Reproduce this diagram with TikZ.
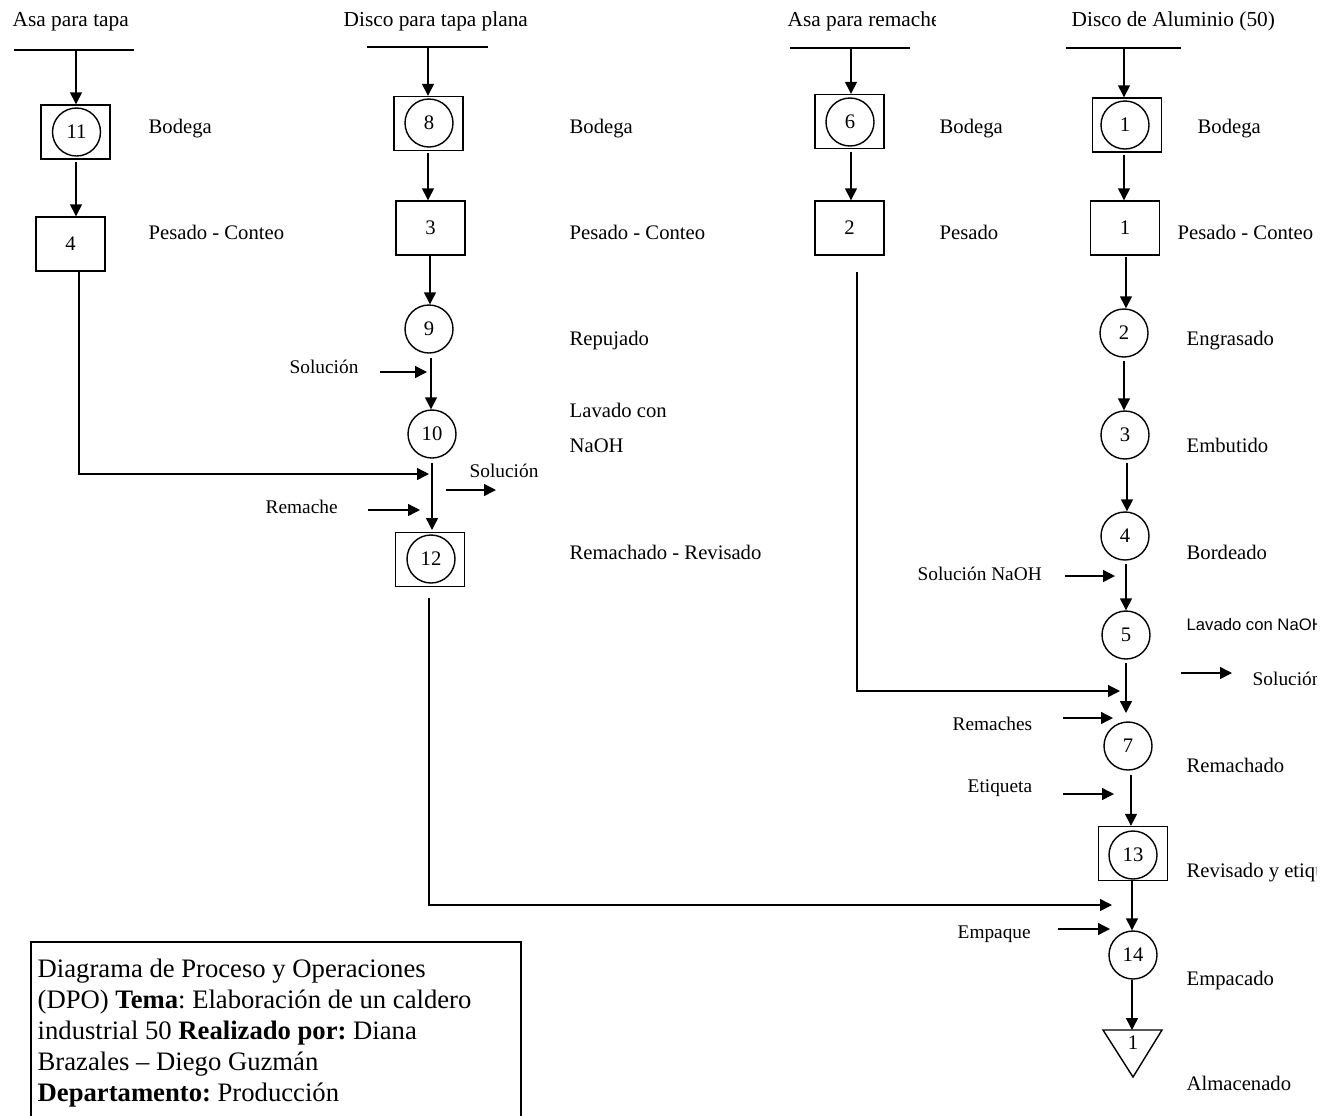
\documentclass[tikz,border=0pt]{standalone}
\usepackage{fontspec}
\setmainfont{Liberation Serif}
\newfontfamily\labsans{Liberation Sans}
\usetikzlibrary{arrows.meta,calc}
\frenchspacing
\begin{document}
\begin{tikzpicture}[x=0.75pt,y=-0.75pt,line width=1.05pt,
  flow/.style={-{Triangle[length=9pt,width=9pt]}},
  opbox/.style={draw,rectangle,inner sep=0pt,minimum width=51.75pt,minimum height=40.5pt,font=\fontsize{15.5}{18}\selectfont},
  opcirc/.style={draw,circle,inner sep=0pt,minimum size=36pt,font=\fontsize{15.5}{18}\selectfont},
  title/.style={anchor=mid west,inner sep=0pt,font=\fontsize{16}{19}\selectfont},
  lab/.style={anchor=mid west,inner sep=0pt,font=\fontsize{15.5}{18}\selectfont},
  side/.style={anchor=mid west,inner sep=0pt,font=\fontsize{14.5}{17}\selectfont},
]
\useasboundingbox (0,0) rectangle (1322,1115);

% ---------- column titles ----------
\node[title] (tA) at (12,23) {Asa para tapa};
\node[title] (tB) at (343,23) {Disco para tapa plana};
\begin{scope}
  \clip (700,0) rectangle (935,60);
  \node[title] (tC) at (787,23) {Asa para remache};
\end{scope}
\node[title] (tD) at (1071,23) {Disco de Aluminio (50)};

% material entry lines
\draw (14,50) -- (134,50);
\draw (367,47) -- (488,47);
\draw (790,48) -- (910,48);
\draw (1066,48) -- (1181,48);
\coordinate (lA) at (76,50);
\coordinate (lB) at (428,47);
\coordinate (lC) at (851,48);
\coordinate (lD) at (1124,48);

% ---------- column A: Asa para tapa ----------
\node[opbox] (b11) at (75.5,132) {};
\node[opcirc] (c11) at (76.5,132) {11};
\node[opbox] (b4) at (70.5,244) {4};

% ---------- column B: Disco para tapa plana ----------
\node[opbox] (b8) at (428.5,123.5) {};
\node[opcirc] (c8) at (429,123) {8};
\node[opbox] (b3) at (430.5,228) {3};
\node[opcirc] (c9) at (429,329) {9};
\node[opcirc] (c10) at (432,434) {10};
\node[opbox] (b12) at (430,559.5) {};
\node[opcirc] (c12) at (431,559) {12};

% ---------- column C: Asa para remache ----------
\node[opbox] (b6) at (849.5,121.5) {};
\node[opcirc] (c6) at (850,122) {6};
\node[opbox] (b2) at (849.5,228) {2};

% ---------- column D: Disco de Aluminio ----------
\node[opbox] (b1a) at (1127,125) {};
\node[opcirc] (c1) at (1125,125) {1};
\node[opbox] (b1b) at (1125,228) {1};
\node[opcirc] (c2) at (1124,333) {2};
\node[opcirc] (c3) at (1125,435) {3};
\node[opcirc] (c4) at (1125,536) {4};
\node[opcirc] (c5) at (1126,635) {5};
\node[opcirc] (c7) at (1128,746) {7};
\node[opbox] (b13) at (1133,853.5) {};
\node[opcirc] (c13) at (1133,855) {13};
\node[opcirc] (c14) at (1133,955) {14};
\draw (1103,1030) -- (1162,1030) -- (1133,1077) -- cycle;
\coordinate (tri) at (1133,1030);
\node[inner sep=0pt,font=\fontsize{15.5}{18}\selectfont] (n1) at (1133,1043) {1};

% ---------- flow A ----------
\draw[flow] (lA) -- (lA |- b11.north);
\coordinate (s11) at (76,162);
\draw[flow] (s11) -- (s11 |- b4.north);
\coordinate (a4) at (79,271);
\coordinate (jB1) at (429,474);
\draw[flow] (a4) |- (jB1);

% ---------- flow B ----------
\draw[flow] (lB) -- (lB |- b8.north);
\coordinate (s8) at (428,153);
\draw[flow] (s8) -- (s8 |- b3.north);
\coordinate (s3) at (430,256);
\draw[flow] (s3) -- (s3 |- c9.north);
\coordinate (s9) at (431,358);
\draw[flow] (s9) -- (s9 |- c10.north);
\coordinate (s10) at (432,463);
\coordinate (e10) at (432,530);
\draw[flow] (s10) -- (e10);
\coordinate (inB1) at (380,372);
\coordinate (inB1e) at (427,372);
\draw[flow] (inB1) -- (inB1e);
\node[side] (sB1) at (289,370) {Solución};
\coordinate (outB) at (446,490);
\coordinate (outBe) at (496,490);
\draw[flow] (outB) -- (outBe);
\node[side] (sB2) at (469,474) {Solución};
\coordinate (inB2) at (368,510);
\coordinate (inB2e) at (420,510);
\draw[flow] (inB2) -- (inB2e);
\node[side] (rB) at (265,510) {Remache};
\coordinate (a12) at (429,598);
\coordinate (jD3) at (1112,905);
\draw[flow] (a12) |- (jD3);

% ---------- flow C ----------
\draw[flow] (lC) -- (lC |- b6.north);
\coordinate (s6) at (851,152);
\draw[flow] (s6) -- (s6 |- b2.north);
\coordinate (a2) at (857,272);
\coordinate (jD1) at (1120,691);
\draw[flow] (a2) |- (jD1);

% ---------- flow D ----------
\draw[flow] (lD) -- (lD |- b1a.north);
\coordinate (s1a) at (1124,155);
\draw[flow] (s1a) -- (s1a |- b1b.north);
\coordinate (s1b) at (1126,257);
\draw[flow] (s1b) -- (s1b |- c2.north);
\coordinate (s2) at (1124,361);
\draw[flow] (s2) -- (s2 |- c3.north);
\coordinate (s3d) at (1127,463);
\draw[flow] (s3d) -- (s3d |- c4.north);
\coordinate (s4) at (1126,564);
\draw[flow] (s4) -- (s4 |- c5.north);
\coordinate (s5) at (1126,663);
\coordinate (d57) at (1126,713);
\draw[flow] (s5) -- (d57);
\coordinate (s7) at (1131,775);
\draw[flow] (s7) -- (s7 |- b13.north);
\coordinate (s13) at (1132,881);
\draw[flow] (s13) -- (s13 |- c14.north);
\coordinate (s14) at (1132,980);
\draw[flow] (s14) -- (s14 |- tri);

\coordinate (inD1) at (1065,576);
\coordinate (inD1e) at (1115,576);
\draw[flow] (inD1) -- (inD1e);
\node[side] (sD1) at (917,577) {Solución NaOH};
\coordinate (outD) at (1181,673);
\coordinate (outDe) at (1232,673);
\draw[flow] (outD) -- (outDe);
\coordinate (inD2) at (1063,718);
\coordinate (inD2e) at (1113,718);
\draw[flow] (inD2) -- (inD2e);
\node[side] (rD) at (952,727) {Remaches};
\coordinate (inD3) at (1063,794);
\coordinate (inD3e) at (1114,794);
\draw[flow] (inD3) -- (inD3e);
\node[side] (eD) at (967,789) {Etiqueta};
\coordinate (inD4) at (1058,929);
\coordinate (inD4e) at (1110,929);
\draw[flow] (inD4) -- (inD4e);
\node[side] (pD) at (957,935) {Empaque};

% ---------- step labels ----------
\node[lab] (lbA1) at (148,130) {Bodega};
\node[lab] (lbA2) at (148,236) {Pesado - Conteo};
\node[lab] (lbB1) at (569,130) {Bodega};
\node[lab] (lbB2) at (569,236) {Pesado - Conteo};
\node[lab] (lbB3) at (569,342) {Repujado};
\node[lab] (lbB4) at (569,414) {Lavado con};
\node[lab] (lbB5) at (569,449) {NaOH};
\node[lab] (lbB6) at (569,556) {Remachado - Revisado};
\node[lab] (lbC1) at (939,130) {Bodega};
\node[lab] (lbC2) at (939,236) {Pesado};
\node[lab] (lbD1) at (1197,130) {Bodega};
\begin{scope}
  \clip (1150,0) rectangle (1316,1115);
  \node[lab] (lbD2) at (1177,236) {Pesado - Conteo};
  \node[anchor=mid west,inner sep=0pt,font=\labsans\fontsize{12.5}{15}\selectfont] (lbD5) at (1186,627) {Lavado con NaOH};
  \node[side] (sD2) at (1252,682) {Solución};
  \node[lab] (lbD7) at (1186,874) {Revisado y etiquetado};
\end{scope}
\node[lab] (lbD3) at (1186,342) {Engrasado};
\node[lab] (lbD4) at (1186,449) {Embutido};
\node[lab] (lbD6) at (1186,556) {Bordeado};
\node[lab] (lbD8) at (1186,769) {Remachado};
\node[lab] (lbD9) at (1186,982) {Empacado};
\node[lab] (lbD10) at (1186,1087) {Almacenado};

% ---------- information box ----------
\begin{scope}
  \clip (0,0) rectangle (1322,1115);
  \draw[line width=1.5pt] (31,1125) -- (31,942) -- (521,942) -- (521,1125);
\end{scope}
\node[anchor=north west,inner sep=0pt,align=left,font=\fontsize{20}{23.25}\selectfont] (info) at (37,958)
  {Diagrama de Proceso y Operaciones\\
   (DPO) \textbf{Tema}: Elaboración de un caldero\\
   industrial 50 \textbf{Realizado por:} Diana\\
   Brazales – Diego Guzmán\\
   \textbf{Departamento:} Producción};
\end{tikzpicture}
\end{document}
